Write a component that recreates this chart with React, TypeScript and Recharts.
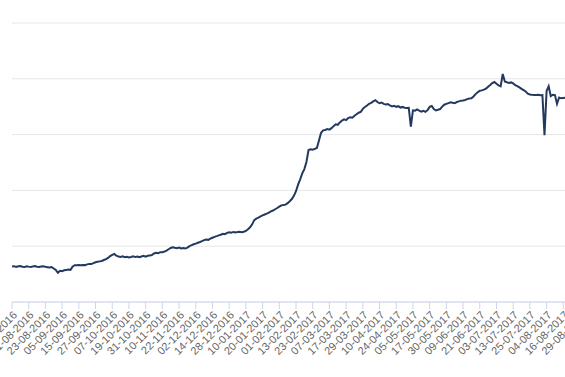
import React from "react";
import { LineChart, Line, XAxis, YAxis, CartesianGrid } from "recharts";

// First trading day and UK market holidays in the period (categories)
const START_DATE = "2016-08-01";
const HOLIDAYS = [
  "2016-08-29", "2016-12-26", "2016-12-27", "2017-01-02",
  "2017-04-14", "2017-04-17", "2017-05-01", "2017-05-29", "2017-08-28",
];

// Daily closing values (one per trading day)
const PRICES = [
  63.5, 64.2, 62.8, 63.9, 64.5, 63.1, 62.6, 64.0, 63.4, 62.9,
  63.8, 64.4, 63.2, 62.7, 63.5, 64.1, 63.0, 62.4, 61.8, 62.5,
  60.1, 57.3, 52.4, 56.0, 55.2, 56.8, 57.5, 58.2, 57.6, 63.4,
  66.0, 65.7, 66.2, 65.9, 66.5, 66.1, 67.4, 68.3, 68.0, 69.6,
  71.2, 72.0, 72.8, 73.5, 75.2, 76.8, 79.0, 82.3, 84.6, 86.1,
  83.0, 81.4, 80.6, 81.8, 80.3, 81.1, 79.9, 80.8, 82.0, 80.5,
  81.3, 80.1, 81.5, 82.6, 81.2, 82.8, 83.5, 84.1, 86.9, 88.2,
  87.6, 89.3, 89.0, 90.4, 92.1, 94.5, 96.8, 98.2, 97.1, 96.5,
  97.4, 96.0, 96.9, 95.8, 97.6, 100.2, 101.8, 103.5, 104.6, 106.2,
  107.5, 109.0, 110.8, 112.1, 111.4, 113.6, 115.2, 116.8, 118.0, 119.4,
  120.5, 122.3, 121.6, 123.8, 125.1, 124.2, 125.6, 124.8, 125.3, 126.0,
  125.2, 125.9, 127.4, 130.5, 133.8, 139.2, 146.8, 149.5, 151.2, 153.4,
  155.2, 156.8, 158.4, 160.1, 162.5, 164.0, 166.2, 168.5, 171.0, 173.2,
  173.8, 174.5, 177.2, 180.6, 184.5, 190.2, 198.5, 210.4, 219.8, 230.5,
  238.2, 251.0, 272.4, 273.8, 272.9, 274.5, 276.0, 289.5, 303.2, 307.6,
  308.4, 309.8, 308.9, 311.5, 315.2, 318.4, 317.6, 321.8, 325.1, 327.3,
  326.0, 329.5, 331.2, 330.4, 333.8, 336.5, 339.2, 340.8, 346.2, 349.5,
  352.1, 355.3, 357.0, 359.6, 361.8, 358.4, 356.2, 357.5, 355.1, 353.8,
  354.6, 352.2, 350.4, 351.6, 349.8, 350.9, 348.5, 349.6, 348.2, 347.5,
  348.0, 314.2, 343.5, 342.8, 345.1, 343.0, 341.2, 342.5, 340.8, 343.8,
  349.6, 351.2, 346.0, 343.2, 344.5, 345.8, 350.2, 353.6, 355.0, 356.4,
  357.8, 357.0, 356.2, 358.4, 359.5, 360.8, 361.2, 362.0, 363.5, 364.8,
  365.2, 368.4, 372.6, 376.0, 378.5, 379.2, 380.6, 382.5, 385.8, 389.0,
  392.4, 394.2, 391.0, 388.2, 386.4, 408.6, 395.2, 393.8, 392.6, 393.5,
  391.8, 388.6, 386.9, 384.5, 382.0, 379.6, 377.2, 373.5, 372.0, 371.4,
  371.0, 370.8, 371.2, 370.6, 370.9, 299.0, 378.0, 386.5, 369.0, 371.5,
  370.8, 355.0, 366.5, 365.0, 365.8, 366.2, 367.4, 368.0, 366.5, 367.8,
  368.5, 367.2, 368.0,
];

const Y_TICKS = [0, 100, 200, 300, 400, 500];

function pad(n: number) {
  return n < 10 ? "0" + n : "" + n;
}

function tradingDates(count: number): string[] {
  const out: string[] = [];
  const d = new Date(START_DATE + "T12:00:00Z");
  while (out.length < count) {
    const iso = d.getUTCFullYear() + "-" + pad(d.getUTCMonth() + 1) + "-" + pad(d.getUTCDate());
    const dow = d.getUTCDay();
    if (dow !== 0 && dow !== 6 && HOLIDAYS.indexOf(iso) < 0) {
      out.push(pad(d.getUTCDate()) + "-" + pad(d.getUTCMonth() + 1) + "-" + d.getUTCFullYear());
    }
    d.setUTCDate(d.getUTCDate() + 1);
  }
  return out;
}

const DATES = tradingDates(PRICES.length);
const data = PRICES.map((v, i) => ({ date: DATES[i], value: v }));

const AxisTick = (props: any) => {
  const { x, y, payload } = props;
  return (
    <g transform={`translate(${x + 3},${y + 2})`}>
      <text
        transform="rotate(-45)"
        textAnchor="end"
        dy="0.35em"
        fontSize={11}
        fill="#666666"
        fontFamily="'Liberation Sans', Arial, sans-serif"
      >
        {payload.value}
      </text>
    </g>
  );
};

const EmptyTick = () => <g />;

export default function App() {
  return (
    <div
      style={{
        position: "absolute",
        left: 0,
        top: 0,
        width: 565,
        height: 377,
        overflow: "hidden",
        background: "#ffffff",
      }}
    >
      <LineChart
        width={600}
        height={377}
        data={data}
        margin={{ top: 23, right: 20, bottom: 0, left: 12 }}
      >
        <CartesianGrid vertical={false} stroke="#e6e6e6" />
        <XAxis
          dataKey="date"
          interval={7}
          height={75}
          tickSize={7}
          tickMargin={2}
          axisLine={{ stroke: "#ccd6eb" }}
          tickLine={{ stroke: "#ccd6eb" }}
          tick={<AxisTick />}
        />
        <YAxis
          width={0}
          type="number"
          domain={[0, 500]}
          ticks={Y_TICKS}
          tick={EmptyTick}
          axisLine={false}
          tickLine={false}
        />
        <Line
          type="linear"
          dataKey="value"
          stroke="#24395f"
          strokeWidth={2}
          dot={false}
          isAnimationActive={false}
        />
      </LineChart>
    </div>
  );
}
